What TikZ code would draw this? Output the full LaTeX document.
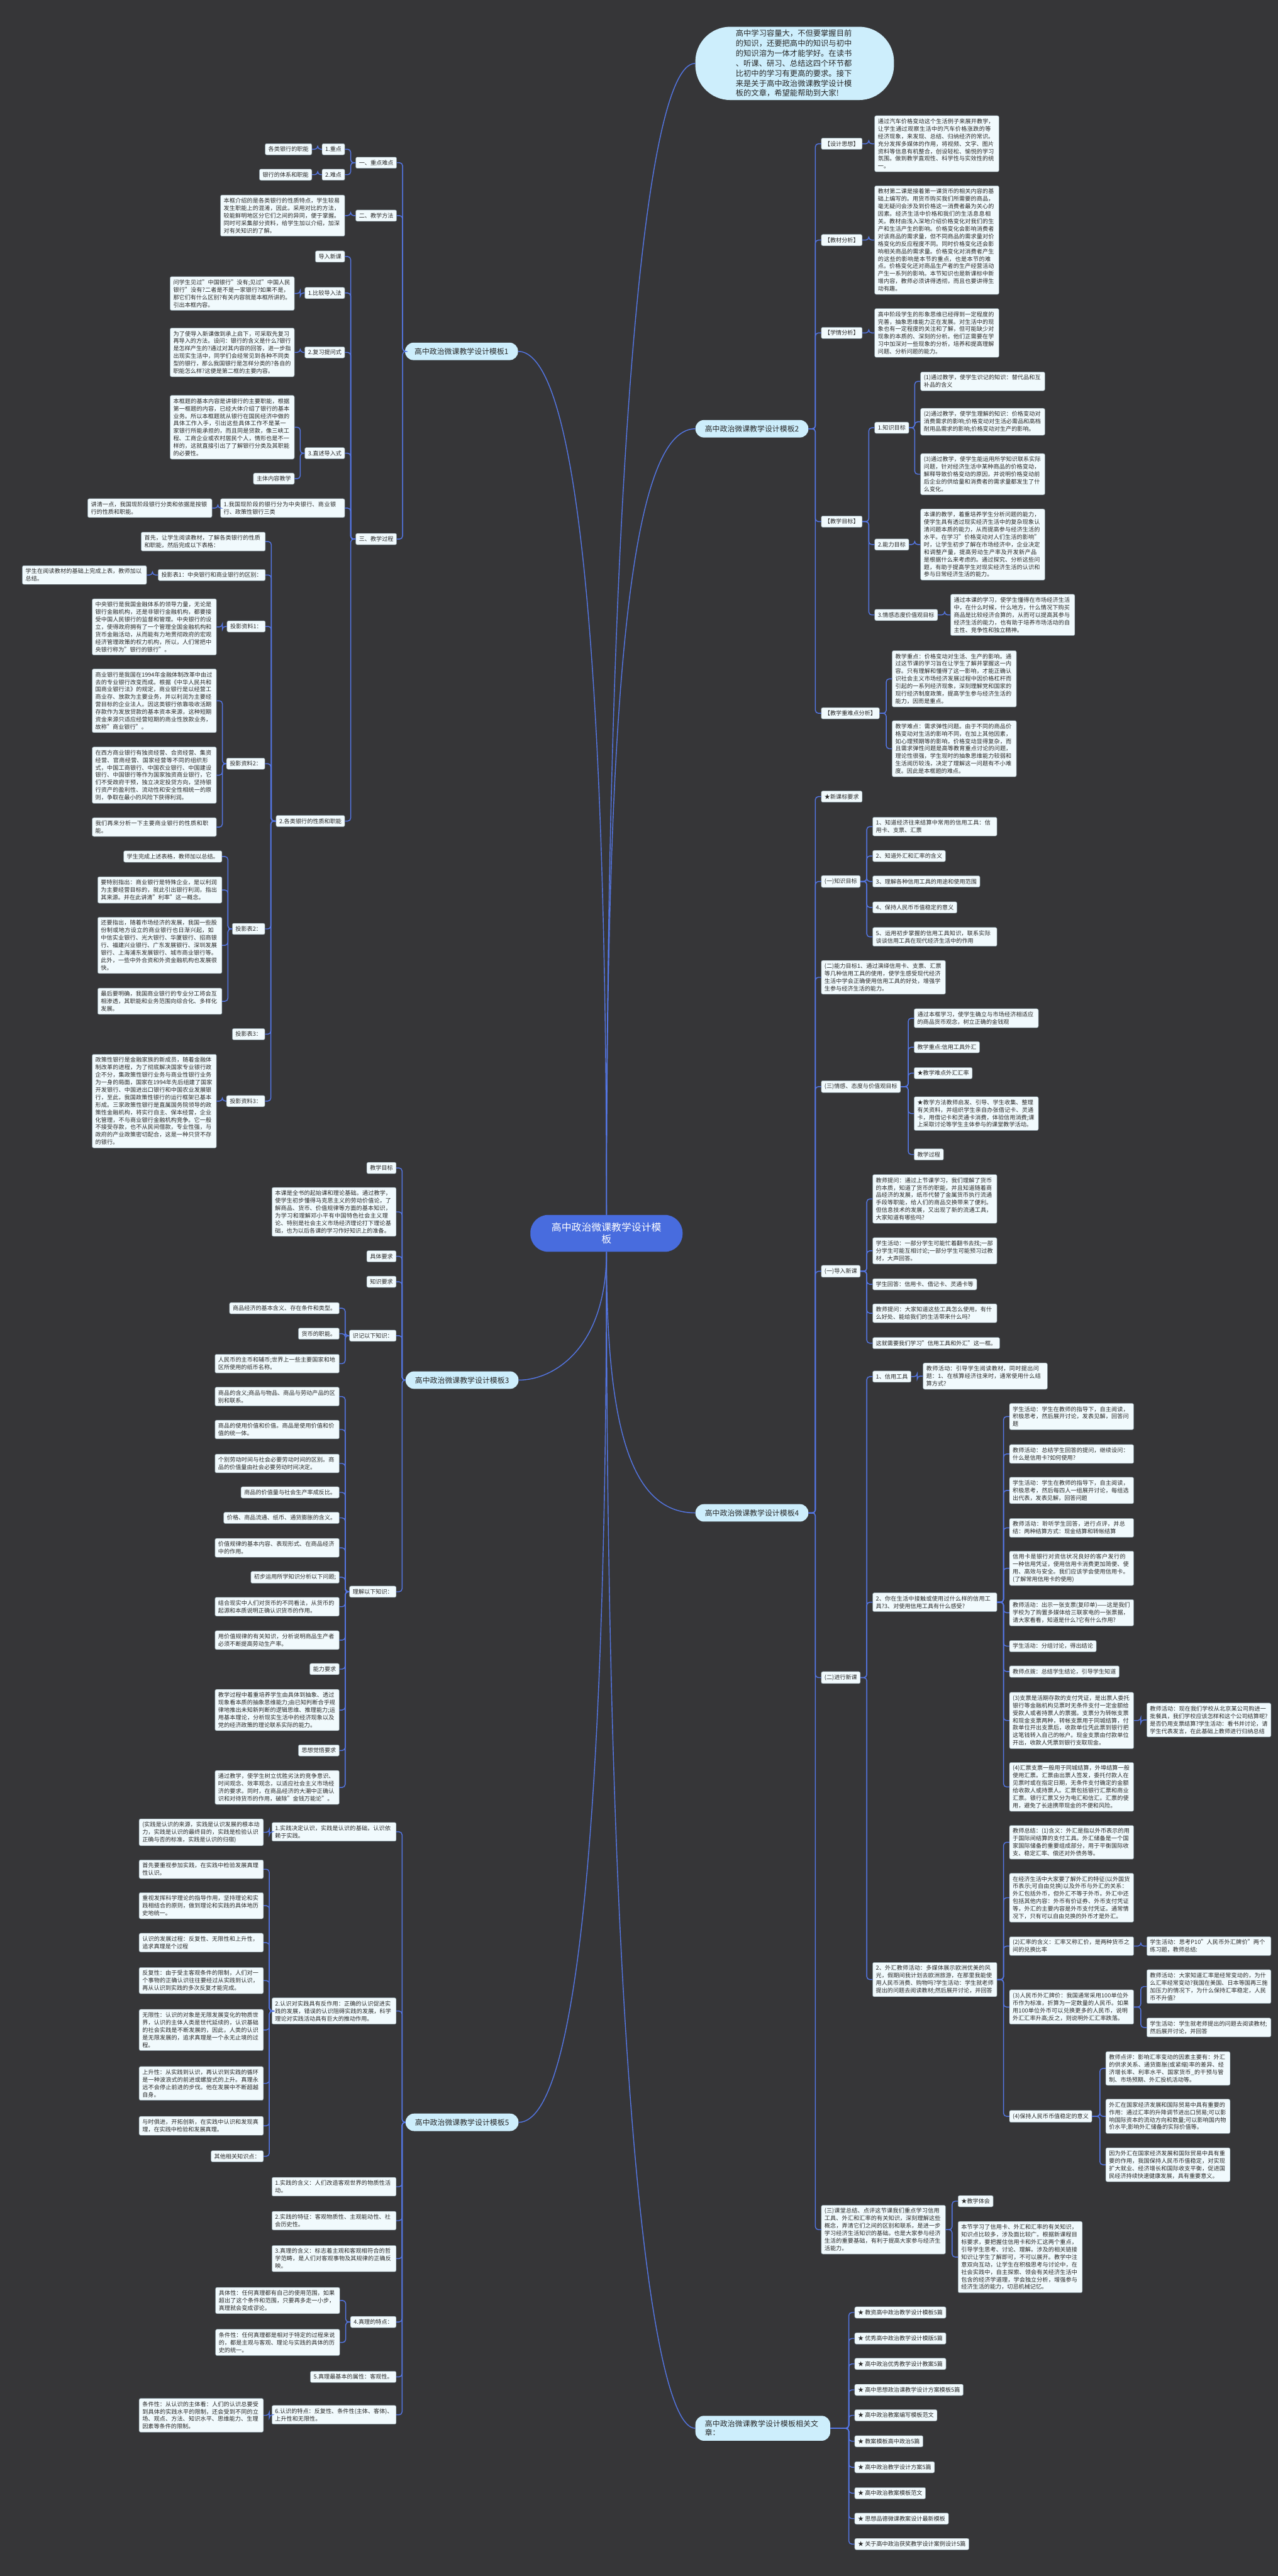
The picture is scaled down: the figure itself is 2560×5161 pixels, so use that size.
\documentclass[tikz,border=0pt]{standalone}
\usepackage{fontspec}
\setmainfont{Noto Sans CJK SC}
\usetikzlibrary{calc}
\XeTeXlinebreaklocale "zh"
\XeTeXlinebreakskip=0pt plus 1pt
\definecolor{bgc}{RGB}{54,54,56}
\definecolor{boxf}{RGB}{241,250,253}
\definecolor{boxd}{RGB}{125,145,155}
\definecolor{txt}{RGB}{40,40,40}
\definecolor{lnb}{RGB}{84,118,228}
\definecolor{brf}{RGB}{205,238,252}
\definecolor{cen}{RGB}{72,108,222}
\newcommand{\fs}{\fontsize{11.5}{15}\selectfont}
\newcommand{\linkR}[2]{\draw[conn] let \p1=(#1.east), \p2=(#2.west) in (\p1) -- (\x2-11.5pt,\y1) |- (\p2);}
\newcommand{\linkL}[2]{\draw[conn] let \p1=(#1.west), \p2=(#2.east) in (\p1) -- (\x2+11.5pt,\y1) |- (\p2);}
\begin{document}
\begin{tikzpicture}[x=1pt,y=-1pt,
  leaf/.style={draw=boxd, fill=boxf, rounded corners=3pt, inner xsep=6.5pt, inner ysep=6pt, font=\fs, text=txt, line width=0.6pt},
  lr/.style={leaf, anchor=west},
  ll/.style={leaf, anchor=east},
  wide/.style={text width=236pt, align=left},
  branch/.style={fill=brf, rounded corners=17pt, inner xsep=19pt, inner ysep=9pt, font=\fontsize{15}{18}\selectfont, text=txt, minimum height=35pt},
  conn/.style={draw=lnb, line width=1.8pt, rounded corners=6pt},
  conn1/.style={draw=lnb, line width=1.8pt}]
\useasboundingbox (0,0) rectangle (2560,5161);
\fill[bgc] (0,0) rectangle (2560,5161);

% center and level 1
\node[fill=cen, text=white, rounded corners=36pt, minimum width=305pt, minimum height=74pt, align=center, font=\fontsize{20}{24}\selectfont] (C) at (1215,2471) {高中政治微课教学设计模\\板};
\node[fill=brf, rounded corners=70pt, minimum width=398pt, inner ysep=6pt, text width=236pt, align=left, text=txt, font=\fontsize{15.5}{20}\selectfont] (intro) at (1592,127) {高中学习容量大，不但要掌握目前\\的知识，还要把高中的知识与初中\\的知识溶为一体才能学好。在读书\\、听课、研习、总结这四个环节都\\比初中的学习有更高的要求。接下\\来是关于高中政治微课教学设计模\\板的文章，希望能帮助到大家!};
\node[branch, anchor=east] (t1) at (1038,704) {高中政治微课教学设计模板1};
\node[branch, anchor=west] (t2) at (1393,859) {高中政治微课教学设计模板2};
\node[branch, anchor=east] (t3) at (1039,2765) {高中政治微课教学设计模板3};
\node[branch, anchor=west] (t4) at (1393,3031) {高中政治微课教学设计模板4};
\node[branch, anchor=east] (t5) at (1039,4252) {高中政治微课教学设计模板5};
\node[branch, anchor=west, text width=232pt, align=left] (rel) at (1393,4865) {高中政治微课教学设计模板相关文章：};

\draw[conn1] (C.north) .. controls (1215,1000) and (1120,704) .. (t1.east);
\draw[conn1] (C.north) .. controls (1215,1100) and (1280,127) .. (intro.west);
\draw[conn1] (C.north) .. controls (1215,1400) and (1260,859) .. (t2.west);
\draw[conn1] (C.south) .. controls (1215,2700) and (1110,2765) .. (t3.east);
\draw[conn1] (C.south) .. controls (1215,2850) and (1260,3031) .. (t4.west);
\draw[conn1] (C.south) .. controls (1215,3700) and (1150,4252) .. (t5.east);
\draw[conn1] (C.south) .. controls (1215,4100) and (1300,4865) .. (rel.west);

% ===== template 2 =====
\node[lr] (a1) at (1645,288) {【设计思想】};
\node[lr, wide] (a1c) at (1752,288) {通过汽车价格变动这个生活例子来展开教学，让学生通过观察生活中的汽车价格涨跌的等经济现象，来发现、总结、归纳经济的常识。充分发挥多媒体的作用，将视频、文字、图片资料等信息有机整合，创设轻松、愉悦的学习氛围。做到教学直观性、科学性与实效性的统一。};
\node[lr] (a2) at (1645,481) {【教材分析】};
\node[lr, wide] (a2c) at (1752,481) {教材第二课是接着第一课货币的相关内容的基础上编写的。用货币购买我们所需要的商品，毫无疑问会涉及到价格这一消费者最为关心的因素。经济生活中价格和我们的生活息息相关。教材由浅入深地介绍价格变化对我们的生产和生活产生的影响。价格变化会影响消费者对该商品的需求量，但不同商品的需求量对价格变化的反应程度不同。同时价格变化还会影响相关商品的需求量。价格变化对消费者产生的这些的影响是本节的重点，也是本节的难点。价格变化还对商品生产者的生产经营活动产生一系列的影响。本节知识也是新课标中新增内容，教师必须讲得透彻，而且也要讲得生动有趣。};
\node[lr] (a3) at (1645,667) {【学情分析】};
\node[lr, wide] (a3c) at (1752,667) {高中阶段学生的形象思维已经得到一定程度的完善，抽象思维能力正在发展。对生活中的现象也有一定程度的关注和了解，但可能缺少对现象的本质的、深刻的分析。他们正需要在学习中加深对一些现象的分析，培养和提高理解问题、分析问题的能力。};
\node[lr] (a4) at (1645,1045) {【教学目标】};
\node[lr] (a41) at (1752,857) {1.知识目标};
\node[lr, wide] (a411) at (1844,764) {(1)通过教学，使学生识记的知识：替代品和互补品的含义};
\node[lr, wide] (a412) at (1844,845) {(2)通过教学，使学生理解的知识：价格变动对消费需求的影响;价格变动对生活必需品和高档耐用品需求的影响;价格变动对生产的影响。};
\node[lr, wide] (a413) at (1844,950) {(3)通过教学，使学生能运用所学知识联系实际问题，针对经济生活中某种商品的价格变动，解释导致价格变动的原因，并说明价格变动前后企业的供给量和消费者的需求量都发生了什么变化。};
\node[lr] (a42) at (1752,1091) {2.能力目标};
\node[lr, wide] (a42c) at (1844,1091) {本课的教学，着重培养学生分析问题的能力，使学生具有透过现实经济生活中的复杂现象认清问题本质的能力，从而提高参与经济生活的水平。在学习"价格变动对人们生活的影响"时，让学生初步了解在市场经济中，企业决定和调整产量，提高劳动生产率及开发新产品是根据什么来考虑的。通过探究、分析这些问题，有助于提高学生对现实经济生活的认识和参与日常经济生活的能力。};
\node[lr] (a43) at (1752,1232) {3.情感态度价值观目标};
\node[lr, wide] (a43c) at (1904,1232) {通过本课的学习，使学生懂得在市场经济生活中，在什么时候，什么地方，什么情况下购买商品是比较经济合算的，从而可以提高其参与经济生活的能力，也有助于培养市场活动的自主性、竞争性和独立精神。};
\node[lr] (a5) at (1645,1429) {【教学重难点分析】};
\node[lr, wide] (a51) at (1787,1360) {教学重点：价格变动对生活、生产的影响。通过这节课的学习旨在让学生了解并掌握这一内容。只有理解和懂得了这一影响，才能正确认识社会主义市场经济发展过程中因价格杠杆而引起的一系列经济现象，深刻理解党和国家的现行经济制度政策，提高学生参与经济生活的能力，因而是重点。};
\node[lr, wide] (a52) at (1787,1500) {教学难点：需求弹性问题。由于不同的商品价格变动对生活的影响不同，在加上其他因素，如心理预期等的影响，价格变动显得复杂，而且需求弹性问题是高等教育重点讨论的问题，理论性很强，学生现时的抽象思维能力较弱和生活阅历较浅，决定了理解这一问题有不小难度。因此是本框题的难点。};
\foreach \c in {a1,a2,a3,a4,a5} {\linkR{t2}{\c}}
\linkR{a1}{a1c} \linkR{a2}{a2c} \linkR{a3}{a3c}
\foreach \c in {a41,a42,a43} {\linkR{a4}{\c}}
\foreach \c in {a411,a412,a413} {\linkR{a41}{\c}}
\linkR{a42}{a42c} \linkR{a43}{a43c}
\linkR{a5}{a51} \linkR{a5}{a52}

% ===== template 4 =====
\node[lr] (b1) at (1645,1596) {★新课标要求};
\node[lr] (b2) at (1645,1766) {(一)知识目标};
\node[lr, wide] (b21) at (1748,1656) {1、知道经济往来结算中常用的信用工具：信用卡、支票、汇票};
\node[lr] (b22) at (1748,1715) {2、知道外汇和汇率的含义};
\node[lr] (b23) at (1748,1766) {3、理解各种信用工具的用途和使用范围};
\node[lr] (b24) at (1748,1818) {4、保持人民币币值稳定的意义};
\node[lr, wide] (b25) at (1748,1877) {5、运用初步掌握的信用工具知识，联系实际谈谈信用工具在现代经济生活中的作用};
\node[lr, wide] (b3) at (1645,1958) {(二)能力目标1、通过演绎信用卡、支票、汇票等几种信用工具的使用，使学生感受现代经济生活中学会正确使用信用工具的好处，增强学生参与经济生活的能力。};
\node[lr] (b4) at (1645,2177) {(三)情感、态度与价值观目标};
\node[lr, wide] (b41) at (1831,2040) {通过本框学习，使学生确立与市场经济相适应的商品货币观念，树立正确的金钱观};
\node[lr] (b42) at (1831,2098) {教学重点:信用工具外汇};
\node[lr] (b43) at (1831,2150) {★教学难点外汇汇率};
\node[lr, wide] (b44) at (1831,2231) {★教学方法教师启发、引导、学生收集、整理有关资料，并组织学生亲自办张借记卡、灵通卡，用借记卡和灵通卡消费，体验信用消费;课上采取讨论等学生主体参与的课堂教学活动。};
\node[lr] (b45) at (1831,2313) {教学过程};
\node[lr] (b5) at (1645,2547) {(一)导入新课};
\node[lr, wide] (b51) at (1748,2402) {教师提问：通过上节课学习，我们理解了货币的本质，知道了货币的职能，并且知道随着商品经济的发展，纸币代替了金属货币执行流通手段等职能，给人们的商品交换带来了便利。但信息技术的发展，又出现了新的流通工具，大家知道有哪些吗?};
\node[lr, wide] (b52) at (1748,2506) {学生活动：一部分学生可能忙着翻书去找;一部分学生可能互相讨论;一部分学生可能预习过教材，大声回答。};
\node[lr] (b53) at (1748,2573) {学生回答：信用卡、借记卡、灵通卡等};
\node[lr, wide] (b54) at (1748,2631) {教师提问：大家知道这些工具怎么使用，有什么好处、能给我们的生活带来什么吗?};
\node[lr] (b55) at (1748,2691) {这就需要我们学习"信用工具和外汇"这一框。};
\node[lr] (b6) at (1645,3361) {(二)进行新课};
\node[lr] (b61) at (1748,2758) {1、信用工具};
\node[lr, wide] (b61c) at (1849,2757) {教师活动：引导学生阅读教材，同时提出问题：1、在核算经济往来时，通常使用什么结算方式?};
\node[lr, wide] (b62) at (1748,3210) {2、你在生活中接触或使用过什么样的信用工具?3、对使用信用工具有什么感受?};
\node[lr, wide] (b621) at (2022,2838) {学生活动：学生在教师的指导下，自主阅读，积极思考，然后展开讨论，发表见解，回答问题};
\node[lr, wide] (b622) at (2022,2913) {教师活动：总结学生回答的提问，继续设问：什么是信用卡?如何使用?};
\node[lr, wide] (b623) at (2022,2986) {学生活动：学生在教师的指导下，自主阅读，积极思考，然后每四人一组展开讨论，每组选出代表，发表见解，回答问题};
\node[lr, wide] (b624) at (2022,3061) {教师活动：聆听学生回答，进行点评，并总结：两种结算方式：现金结算和转帐结算};
\node[lr, wide] (b625) at (2022,3142) {信用卡是银行对资信状况良好的客户发行的一种信用凭证，使用信用卡消费更加简便、使用、高效与安全。我们应该学会使用信用卡。(了解常用信用卡的使用)};
\node[lr, wide] (b626) at (2022,3231) {教师活动：出示一张支票(复印单)——这是我们学校为了购置多媒体给三联家电的一张票据，请大家看看，知道是什么?它有什么作用?};
\node[lr] (b627) at (2022,3298) {学生活动：分组讨论，得出结论};
\node[lr] (b628) at (2022,3349) {教师点拨：总结学生结论，引导学生知道};
\node[lr, wide] (b629) at (2022,3447) {(3)支票是活期存款的支付凭证，是出票人委托银行等金融机构见票时无条件支付一定金额给受款人或者持票人的票据。支票分为转帐支票和现金支票两种，转帐支票用于同城结算，付款单位开出支票后，收款单位凭此票到银行把这笔钱转入自己的帐户。现金支票由付款单位开出，收款人凭票到银行支取现金。};
\node[lr, wide] (b629c) at (2297,3446) {教师活动：现在我们学校从北京某公司购进一批餐具，我们学校应该怎样和这个公司结算呢?是否仍用支票结算?学生活动：看书并讨论，请学生代表发言，在此基础上教师进行归纳总结};
\node[lr, wide] (b62a) at (2022,3580) {(4)汇票支票一般用于同城结算，外埠结算一般使用汇票。汇票由出票人签发，委托付款人在见票时或在指定日期，无条件支付确定的金额给收款人或持票人。汇票包括银行汇票和商业汇票。银行汇票又分为电汇和信汇。汇票的使用，避免了长途携带现金的不便和风险。};
\node[lr, wide] (b63) at (1748,3966) {2、外汇教师活动：多媒体展示欧洲优美的风光，假期间我计划去欧洲旅游，在那里我能使用人民币消费、购物吗?学生活动：学生就老师提出的问题去阅读教材;然后展开讨论，并回答};
\node[lr, wide] (b631) at (2022,3691) {教师总结：(1)含义：外汇是指以外币表示的用于国际间结算的支付工具。外汇储备是一个国家国际储备的重要组成部分，用于平衡国际收支、稳定汇率、偿还对外债务等。};
\node[lr, wide] (b632) at (2022,3802) {在经济生活中大家要了解外汇的特征(以外国货币表示;可自由兑换)以及外币与外汇的关系：外汇包括外币，但外汇不等于外币。外汇中还包括其他内容：外币有价证券、外币支付凭证等，外汇的主要内容是外币支付凭证。通常情况下，只有可以自由兑换的外币才是外汇。};
\node[lr, wide] (b633) at (2022,3899) {(2)汇率的含义：汇率又称汇价，是两种货币之间的兑换比率};
\node[lr, wide] (b633c) at (2297,3899) {学生活动：思考P10"人民币外汇牌价"两个练习题，教师总结:};
\node[lr, wide] (b634) at (2022,4021) {(3)人民币外汇牌价：我国通常采用100单位外币作为标准，折算为一定数量的人民币。如果用100单位外币可以兑换更多的人民币，说明外汇汇率升高;反之，则说明外汇汇率跌落。};
\node[lr, wide] (b634a) at (2297,3980) {教师活动：大家知道汇率是经常变动的，为什么汇率经常变动?我国在美国、日本等国再三施加压力的情况下，为什么保持汇率稳定，人民币不升值?};
\node[lr, wide] (b634b) at (2297,4062) {学生活动：学生就老师提出的问题去阅读教材;然后展开讨论，并回答};
\node[lr] (b635) at (2022,4240) {(4)保持人民币币值稳定的意义};
\node[lr, wide] (b635a) at (2215,4144) {教师点评：影响汇率变动的因素主要有：外汇的供求关系、通货膨胀(或紧缩)率的差异、经济增长率、利率水平、国家货币\_的干预与管制、市场预期、外汇投机活动等。};
\node[lr, wide] (b635b) at (2215,4240) {外汇在国家经济发展和国际贸易中具有重要的作用：通过汇率的升降调节进出口贸易;可以影响国际资本的流动方向和数量;可以影响国内物价水平;影响外汇储备的实际价值等。};
\node[lr, wide] (b635c) at (2215,4337) {因为外汇在国家经济发展和国际贸易中具有重要的作用，我国保持人民币币值稳定，对实现扩大就业、经济增长和国际收支平衡，促进国民经济持续快速健康发展，具有重要意义。};
\node[lr, wide] (b7) at (1645,4467) {(三)课堂总结、点评这节课我们重点学习信用工具、外汇和汇率的有关知识，深刻理解这些概念，弄清它们之间的区别和联系，是进一步学习经济生活知识的基础。也是大家参与经济生活的重要基础，有利于提高大家参与经济生活能力。};
\node[lr] (b71) at (1919,4410) {★教学体会};
\node[lr, wide] (b72) at (1919,4522) {本节学习了信用卡、外汇和汇率的有关知识，知识点比较多，涉及面比较广。根据新课程目标要求，要把握住信用卡和外汇这两个重点，引导学生思考、讨论、理解。涉及的相关链接知识让学生了解即可，不可以展开。教学中注意双向互动，让学生在积极思考与讨论中，在社会实践中，自主探索、领会有关经济生活中包含的经济学道理，学会独立分析，增强参与经济生活的能力，切忌机械记忆。};
\foreach \c in {b1,b2,b3,b4,b5,b6,b7} {\linkR{t4}{\c}}
\foreach \c in {b21,b22,b23,b24,b25} {\linkR{b2}{\c}}
\foreach \c in {b41,b42,b43,b44,b45} {\linkR{b4}{\c}}
\foreach \c in {b51,b52,b53,b54,b55} {\linkR{b5}{\c}}
\foreach \c in {b61,b62,b63} {\linkR{b6}{\c}}
\linkR{b61}{b61c}
\foreach \c in {b621,b622,b623,b624,b625,b626,b627,b628,b629,b62a} {\linkR{b62}{\c}}
\linkR{b629}{b629c}
\foreach \c in {b631,b632,b633,b634,b635} {\linkR{b63}{\c}}
\linkR{b633}{b633c} \linkR{b634}{b634a} \linkR{b634}{b634b}
\foreach \c in {b635a,b635b,b635c} {\linkR{b635}{\c}}
\linkR{b7}{b71} \linkR{b7}{b72}

% related articles
\node[lr] (r1) at (1712,4633) {★ 教资高中政治教学设计模板5篇};
\node[lr] (r2) at (1712,4685) {★ 优秀高中政治教学设计模版5篇};
\node[lr] (r3) at (1712,4736) {★ 高中政治优秀教学设计教案5篇};
\node[lr] (r4) at (1712,4788) {★ 高中思想政治课教学设计方案模板5篇};
\node[lr] (r5) at (1712,4839) {★ 高中政治教案编写模板范文};
\node[lr] (r6) at (1712,4891) {★ 教案模板高中政治5篇};
\node[lr] (r7) at (1712,4943) {★ 高中政治教学设计方案5篇};
\node[lr] (r8) at (1712,4995) {★ 高中政治教案模板范文};
\node[lr] (r9) at (1712,5046) {★ 思想品德微课教案设计最新模板};
\node[lr] (r10) at (1712,5097) {★ 关于高中政治获奖教学设计案例设计5篇};
\foreach \c in {r1,r2,r3,r4,r5,r6,r7,r8,r9,r10} {\linkR{rel}{\c}}

% ===== template 1 =====
\node[ll] (c1) at (795,326) {一、重点难点};
\node[ll] (c11) at (691,299) {1.重点};
\node[ll] (c11c) at (625,299) {各类银行的职能};
\node[ll] (c12) at (691,350) {2.难点};
\node[ll] (c12c) at (625,350) {银行的体系和职能};
\node[ll] (c2) at (795,432) {二、教学方法};
\node[ll, wide] (c2c) at (691,432) {本框介绍的是各类银行的性质特点，学生较易发生职能上的混淆，因此，采用对比的方法，较能鲜明地区分它们之间的异同，便于掌握。同时可采集部分资料，给学生加以介绍，加深对有关知识的了解。};
\node[ll] (c3) at (795,1080) {三、教学过程};
\node[ll] (c31) at (691,514) {导入新课};
\node[ll] (c32) at (691,587) {1.比较导入法};
\node[ll, wide] (c32c) at (590,588) {问学生见过"中国银行"没有;见过"中国人民银行"没有?二者是不是一家银行?如果不是，那它们有什么区别?有关内容就是本框所讲的。引出本框内容。};
\node[ll] (c33) at (691,706) {2.复习提问式};
\node[ll, wide] (c33c) at (590,706) {为了使导入新课做到承上启下，可采取先复习再导入的方法。设问：银行的含义是什么?银行是怎样产生的?通过对其内容的回答，进一步指出现实生活中，同学们会经常见到各种不同类型的银行，那么我国银行是怎样分类的?各自的职能怎么样?这便是第二框的主要内容。};
\node[ll] (c34) at (691,908) {3.直述导入式};
\node[ll, wide] (c34a) at (590,856) {本框题的基本内容是讲银行的主要职能，根据第一框题的内容，已经大体介绍了银行的基本业务。所以本框题就从银行在国民经济中做的具体工作入手，引出这些具体工作不是某一家银行所能承担的，而且同是贷款，像三峡工程、工商企业或农村居民个人，情形也是不一样的，这就直接引出了了解银行分类及其职能的必要性。};
\node[ll] (c34b) at (590,959) {主体内容教学};
\node[ll, wide] (c35) at (691,1018) {1.我国现阶段的银行分为中央银行、商业银行、政策性银行三类};
\node[ll, wide] (c35c) at (425,1018) {讲清一点，我国现阶段银行分类和依据是按银行的性质和职能。};
\node[ll] (c36) at (691,1645) {2.各类银行的性质和职能};
\node[ll, wide] (c361) at (532,1085) {首先，让学生阅读教材，了解各类银行的性质和职能，然后完成以下表格：};
\node[ll] (c362) at (532,1152) {投影表1：中央银行和商业银行的区别：};
\node[ll, wide] (c362c) at (294,1152) {学生在阅读教材的基础上完成上表，教师加以总结。};
\node[ll] (c363) at (532,1255) {投影资料1：};
\node[ll, wide] (c363c) at (434,1256) {中央银行是我国金融体系的领导力量，无论是银行金融机构，还是非银行金融机构，都要接受中国人民银行的监督和管理。中央银行的设立，使得政府拥有了一个管理全国金融机构和货币金融活动，从而能有力地贯彻政府的宏观经济管理政策的权力机构，所以，人们常把中央银行称为"银行的银行"。};
\node[ll] (c364) at (531,1530) {投影资料2：};
\node[ll, wide] (c364a) at (434,1404) {商业银行是我国在1994年金融体制改革中由过去的专业银行改变而成。根据《中华人民共和国商业银行法》的规定，商业银行是以经营工商业存、放款为主要业务，并以利润为主要经营目标的企业法人。因这类银行依靠吸收活期存款作为发放贷款的基本资本来源，这种短期资金来源只适应经营短期的商业性放款业务，故称"商业银行"。};
\node[ll, wide] (c364b) at (434,1553) {在西方商业银行有独资经营、合资经营、集资经营、官商经营、国家经营等不同的组织形式，中国工商银行、中国农业银行、中国建设银行、中国银行等作为国家独资商业银行，它们不受政府干预，独立决定投贷方向，坚持银行资产的盈利性、流动性和安全性相统一的原则，争取在最小的风险下获得利润。};
\node[ll, wide] (c364c) at (434,1657) {我们再来分析一下主要商业银行的性质和职能。};
\node[ll] (c365) at (531,1861) {投影表2：};
\node[ll] (c365a) at (445,1716) {学生完成上述表格，教师加以总结。};
\node[ll, wide] (c365b) at (445,1783) {要特别指出：商业银行是特殊企业，是以利润为主要经营目标的，就此引出银行利润，指出其来源。并在此讲清"利率"这一概念。};
\node[ll, wide] (c365c) at (445,1894) {还要指出，随着市场经济的发展，我国一些股份制或地方设立的商业银行也日渐兴起，如中信实业银行、光大银行、华厦银行、招商银行、福建兴业银行、广东发展银行、深圳发展银行、上海浦东发展银行、城市商业银行等。此外，一些中外合资和外资金融机构也发展很快。};
\node[ll, wide] (c365d) at (445,2006) {最后要明确，我国商业银行的专业分工将会互相渗透，其职能和业务范围向综合化、多样化发展。};
\node[ll] (c366) at (531,2072) {投影表3：};
\node[ll] (c367) at (531,2206) {投影资料3：};
\node[ll, wide] (c367c) at (434,2206) {政策性银行是金融家族的新成员，随着金融体制改革的进程，为了彻底解决国家专业银行政企不分，集政策性银行业务与商业性银行业务为一身的局面，国家在1994年先后组建了国家开发银行、中国进出口银行和中国农业发展银行，至此，我国政策性银行的运行框架已基本形成。三家政策性银行是直属国务院领导的政策性金融机构，将实行自主、保本经营，企业化管理，不与商业银行金融机构竞争。它一般不接受存款，也不从民间借款，专业性强，与政府的产业政策密切配合，这是一种只贷不存的银行。};
\foreach \c in {c1,c2,c3} {\linkL{t1}{\c}}
\linkL{c1}{c11} \linkL{c1}{c12} \linkL{c11}{c11c} \linkL{c12}{c12c}
\linkL{c2}{c2c}
\foreach \c in {c31,c32,c33,c34,c35,c36} {\linkL{c3}{\c}}
\linkL{c32}{c32c} \linkL{c33}{c33c} \linkL{c34}{c34a} \linkL{c34}{c34b} \linkL{c35}{c35c}
\foreach \c in {c361,c362,c363,c364,c365,c366,c367} {\linkL{c36}{\c}}
\linkL{c362}{c362c} \linkL{c363}{c363c}
\foreach \c in {c364a,c364b,c364c} {\linkL{c364}{\c}}
\foreach \c in {c365a,c365b,c365c,c365d} {\linkL{c365}{\c}}
\linkL{c367}{c367c}

% ===== template 3 =====
\node[ll] (d1) at (794,2340) {教学目标};
\node[ll, wide] (d2) at (794,2428) {本课是全书的起始课和理论基础。通过教学，使学生初步懂得马克思主义的劳动价值论，了解商品、货币、价值规律等方面的基本知识，为学习和理解邓小平有中国特色社会主义理论、特别是社会主义市场经济理论打下理论基础，也为以后各课的学习作好知识上的准备。};
\node[ll] (d3) at (794,2517) {具体要求};
\node[ll] (d4) at (794,2568) {知识要求};
\node[ll] (d5) at (794,2676) {识记以下知识：};
\node[ll] (d51) at (680,2621) {商品经济的基本含义、存在条件和类型。};
\node[ll] (d52) at (680,2672) {货币的职能。};
\node[ll, wide] (d53) at (680,2732) {人民币的主币和辅币;世界上一些主要国家和地区所使用的纸币名称。};
\node[ll] (d6) at (794,3189) {理解以下知识：};
\node[ll, wide] (d61) at (680,2798) {商品的含义;商品与物品、商品与劳动产品的区别和联系。};
\node[ll, wide] (d62) at (680,2864) {商品的使用价值和价值。商品是使用价值和价值的统一体。};
\node[ll, wide] (d63) at (680,2932) {个别劳动时间与社会必要劳动时间的区别。商品的价值量由社会必要劳动时间决定。};
\node[ll] (d64) at (680,2990) {商品的价值量与社会生产率成反比。};
\node[ll] (d65) at (680,3041) {价格、商品流通、纸币、通货膨胀的含义。};
\node[ll, wide] (d66) at (680,3101) {价值规律的基本内容、表现形式、在商品经济中的作用。};
\node[ll] (d67) at (680,3160) {初步运用所学知识分析以下问题;};
\node[ll, wide] (d68) at (680,3219) {结合现实中人们对货币的不同看法，从货币的起源和本质说明正确认识货币的作用。};
\node[ll, wide] (d69) at (680,3286) {用价值规律的有关知识，分析说明商品生产者必须不断提高劳动生产率。};
\node[ll] (d6a) at (680,3344) {能力要求};
\node[ll, wide] (d6b) at (680,3426) {教学过程中着重培养学生由具体到抽象、透过现象看本质的抽象思维能力;由已知判断合乎规律地推出未知新判断的逻辑思维、推理能力;运用基本理论，分析现实生活中的经济现象以及党的经济政策的理论联系实际的能力。};
\node[ll] (d6c) at (680,3507) {思想觉悟要求};
\node[ll, wide] (d6d) at (680,3581) {通过教学，使学生树立优胜劣汰的竞争意识、时间观念、效率观念，以适应社会主义市场经济的要求。同时，在商品经济的大潮中正确认识和对待货币的作用，破除"金钱万能论"。};
\foreach \c in {d1,d2,d3,d4,d5,d6} {\linkL{t3}{\c}}
\foreach \c in {d51,d52,d53} {\linkL{d5}{\c}}
\foreach \c in {d61,d62,d63,d64,d65,d66,d67,d68,d69,d6a,d6b,d6c,d6d} {\linkL{d6}{\c}}

% ===== template 5 =====
\node[ll, wide] (e1) at (794,3670) {1.实践决定认识，实践是认识的基础，认识依赖于实践。};
\node[ll, wide] (e1c) at (528,3671) {(实践是认识的来源，实践是认识发展的根本动力，实践是认识的最终目的，实践是检验认识正确与否的标准，实践是认识的归宿)};
\node[ll, wide] (e2) at (794,4029) {2.认识对实践具有反作用：正确的认识促进实践的发展，错误的认识阻碍实践的发展，科学理论对实践活动具有巨大的推动作用。};
\node[ll, wide] (e21) at (528,3745) {首先要重视参加实践，在实践中检验发展真理性认识。};
\node[ll, wide] (e22) at (528,3818) {重视发挥科学理论的指导作用，坚持理论和实践相结合的原则，做到理论和实践的具体地历史地统一。};
\node[ll, wide] (e23) at (528,3892) {认识的发展过程：反复性、无限性和上升性，追求真理是个过程};
\node[ll, wide] (e24) at (528,3968) {反复性：由于受主客观条件的限制，人们对一个事物的正确认识往往要经过从实践到认识，再从认识到实践的多次反复才能完成。};
\node[ll, wide] (e25) at (528,4067) {无限性：认识的对象是无限发展变化的物质世界，认识的主体人类是世代延续的，认识基础的社会实践是不断发展的，因此，人类的认识是无限发展的，追求真理是一个永无止境的过程。};
\node[ll, wide] (e26) at (528,4174) {上升性：从实践到认识，再认识到实践的循环是一种波浪式的前进或螺旋式的上升。真理永远不会停止前进的步伐。他在发展中不断超越自身。};
\node[ll, wide] (e27) at (528,4259) {与时俱进，开拓创新，在实践中认识和发现真理，在实践中检验和发展真理。};
\node[ll] (e28) at (528,4320) {其他相关知识点：};
\node[ll, wide] (e3) at (794,4381) {1.实践的含义：人们改造客观世界的物质性活动。};
\node[ll, wide] (e4) at (794,4449) {2.实践的特征：客观物质性、主观能动性、社会历史性。};
\node[ll, wide] (e5) at (794,4525) {3.真理的含义：标志着主观和客观相符合的哲学范畴，是人们对客观事物及其规律的正确反映。};
\node[ll] (e6) at (794,4652) {4.真理的特点：};
\node[ll, wide] (e61) at (681,4609) {具体性：任何真理都有自己的使用范围，如果超出了这个条件和范围，只要再多走一小步，真理就会变成谬论。};
\node[ll, wide] (e62) at (681,4693) {条件性：任何真理都是相对于特定的过程来说的，都是主观与客观、理论与实践的具体的历史的统一。};
\node[ll] (e7) at (794,4762) {5.真理最基本的属性：客观性。};
\node[ll, wide] (e8) at (794,4838) {6.认识的特点：反复性、条件性(主体、客体)、上升性和无限性。};
\node[ll, wide] (e8c) at (528,4839) {条件性：从认识的主体看：人们的认识总要受到具体的实践水平的限制，还会受到不同的立场、观点、方法、知识水平、思维能力、生理因素等条件的限制。};
\foreach \c in {e1,e2,e3,e4,e5,e6,e7,e8} {\linkL{t5}{\c}}
\linkL{e1}{e1c}
\foreach \c in {e21,e22,e23,e24,e25,e26,e27,e28} {\linkL{e2}{\c}}
\linkL{e6}{e61} \linkL{e6}{e62}
\linkL{e8}{e8c}
\end{tikzpicture}
\end{document}
